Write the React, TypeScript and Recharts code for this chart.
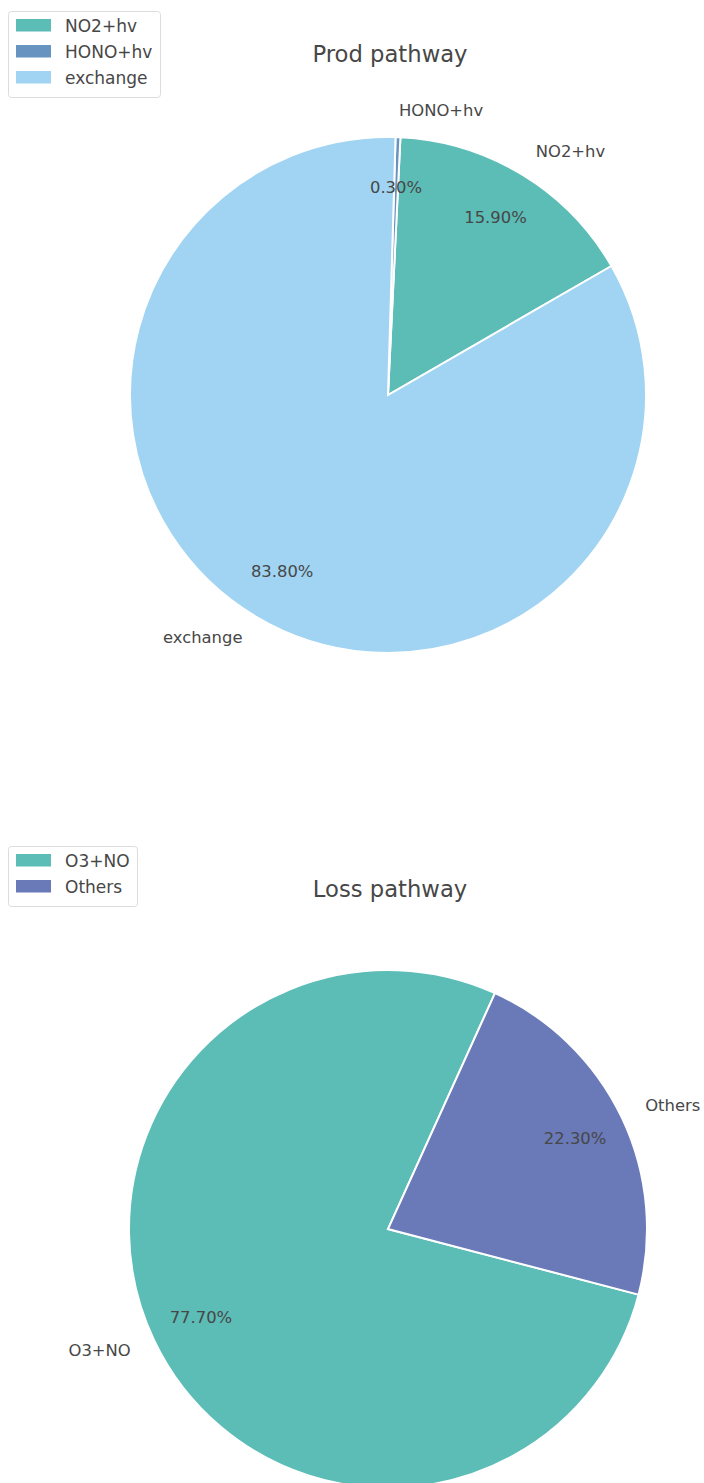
import React from 'react';
import { PieChart, Pie, Cell } from 'recharts';

const prodNames = ['NO2+hv', 'HONO+hv', 'exchange'];
const prodValues = [15.9, 0.3, 83.8];
const lossNames = ['O3+NO', 'Others'];
const lossValues = [77.7, 22.3];

const prodColors = ['#5cbcb6', '#6793c0', '#a0d4f2'];
const lossColors = ['#5cbcb6', '#6a79b8'];

const prodData = prodNames.map((name, i) => ({ name, value: prodValues[i] }));
const lossData = lossNames.map((name, i) => ({ name, value: lossValues[i] }));

const FONT = "'DejaVu Sans', 'Liberation Sans', sans-serif";
const TEXT = '#474747';
const RAD = Math.PI / 180;

const renderLabel = (props: any) => {
  const { cx, cy, midAngle, outerRadius, percent, payload, index } = props;
  const name = (payload && payload.name) || props.name;
  const c = Math.cos(-midAngle * RAD);
  const s = Math.sin(-midAngle * RAD);
  const lx = cx + outerRadius * 1.1 * c;
  const ly = cy + outerRadius * 1.1 * s;
  const px = cx + outerRadius * 0.8 * c;
  const py = cy + outerRadius * 0.8 * s;
  return (
    <g key={`lbl-${index}`}>
      <text x={lx} y={ly - 1} textAnchor={c >= 0 ? 'start' : 'end'} dominantBaseline="central"
        fontFamily={FONT} fontSize={16.4} fill={TEXT}>{name}</text>
      <text x={px} y={py - 1} textAnchor="middle" dominantBaseline="central"
        fontFamily={FONT} fontSize={16.4} fill={TEXT}>{`${(percent * 100).toFixed(2)}%`}</text>
    </g>
  );
};

function LegendBox({ x, y, w, names, colors }: { x: number; y: number; w: number; names: string[]; colors: string[] }) {
  const h = 10 + names.length * 26 - 2;
  return (
    <g>
      <rect x={x + 0.5} y={y + 0.5} width={w} height={h} rx={3} ry={3} fill="#fff" stroke="#dcdcdc" strokeWidth={1} />
      {names.map((n, i) => (
        <g key={n}>
          <rect x={x + 8} y={y + 8 + i * 26} width={35} height={12.5} fill={colors[i]} />
          <text x={x + 57} y={y + 14.5 + i * 26} dominantBaseline="central" fontFamily={FONT} fontSize={17} fill={TEXT}>{n}</text>
        </g>
      ))}
    </g>
  );
}

export default function App() {
  return (
    <div style={{ position: 'absolute', left: 0, top: 0, width: 704, height: 1483, overflow: 'hidden', background: '#fff' }}>
      <div style={{ position: 'absolute', left: 0, top: 0 }}>
        <PieChart width={704} height={1483} margin={{ top: 0, right: 0, bottom: 0, left: 0 }}>
          <Pie data={prodData} dataKey="value" nameKey="name" cx={388} cy={395} outerRadius={258}
            startAngle={30} endAngle={390} stroke="#ffffff" strokeWidth={2} label={renderLabel}
            labelLine={false} isAnimationActive={false}>
            {prodData.map((d, i) => <Cell key={d.name} fill={prodColors[i]} />)}
          </Pie>
          <Pie data={lossData} dataKey="value" nameKey="name" cx={388} cy={1229} outerRadius={259}
            startAngle={65.6} endAngle={425.6} stroke="#ffffff" strokeWidth={2} label={renderLabel}
            labelLine={false} isAnimationActive={false}>
            {lossData.map((d, i) => <Cell key={d.name} fill={lossColors[i]} />)}
          </Pie>
        </PieChart>
      </div>
      <svg width={704} height={1483} style={{ position: 'absolute', left: 0, top: 0, pointerEvents: 'none' }}>
        <text x={390} y={62} textAnchor="middle" fontFamily={FONT} fontSize={22.7} fill={TEXT}>Prod pathway</text>
        <text x={390} y={897} textAnchor="middle" fontFamily={FONT} fontSize={22.7} fill={TEXT}>Loss pathway</text>
        <LegendBox x={8} y={11} w={152} names={prodNames} colors={prodColors} />
        <LegendBox x={8} y={846} w={129} names={lossNames} colors={lossColors} />
      </svg>
    </div>
  );
}
